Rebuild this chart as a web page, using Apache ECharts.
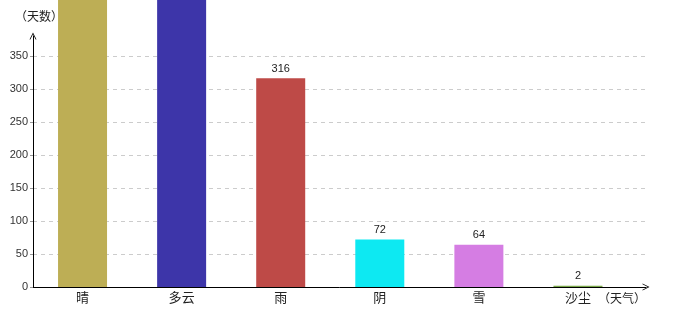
<!DOCTYPE html>
<html>
<head>
<meta charset="utf-8">
<script src="https://cdn.jsdelivr.net/npm/echarts@6/dist/echarts.min.js"></script>
<style>html,body{margin:0;padding:0;background:#fff}#c{width:680px;height:320px}</style>
</head>
<body>
<div id="c"></div>
<script>
// Data
const categories = ['晴', '多云', '雨', '阴', '雪', '沙尘'];
const days = [652, 543, 316, 72, 64, 2];
const barColors = ['#BDAE55', '#3D35A9', '#BE4A47', '#0DE9F2', '#D57DE3', '#7AA84A'];
const yTicks = [0, 50, 100, 150, 200, 250, 300, 350];

const font = '"Noto Sans CJK SC", "Liberation Sans", sans-serif';
const arrow = 'path://M0,10L5,0L10,10L8.8,10L5,2.4L1.2,10Z';

const chart = echarts.init(document.getElementById('c'), null, {renderer: 'canvas'});
chart.setOption({
  animation: false,
  backgroundColor: '#fff',
  textStyle: {fontFamily: font},
  grid: [
    {left: 33, right: 52.5, top: 36, bottom: 33, containLabel: false},
    {left: 33, right: 34, top: 56, bottom: 33, containLabel: false}
  ],
  xAxis: [
    {
      type: 'category', gridIndex: 0, data: categories,
      axisLine: {show: false}, axisTick: {show: false},
      axisLabel: {margin: 4, color: '#222', fontSize: 13, fontFamily: font},
      splitLine: {show: false}
    },
    {
      type: 'value', gridIndex: 1, min: 0, max: 1,
      axisLine: {show: true, lineStyle: {color: '#000', width: 1}, symbol: ['none', arrow], symbolSize: [7, 8]},
      axisTick: {show: false}, axisLabel: {show: false}, splitLine: {show: false},
      name: '（天气）', nameLocation: 'end', nameGap: -24,
      nameTextStyle: {align: 'center', verticalAlign: 'top', padding: [5, 0, 0, 0], color: '#222', fontSize: 12, fontFamily: font}
    }
  ],
  yAxis: [
    {
      type: 'value', gridIndex: 0, min: 0, max: 380,
      axisLine: {show: true, lineStyle: {color: '#000', width: 1}, symbol: ['none', arrow], symbolSize: [7, 8]},
      axisTick: {show: false}, axisLabel: {show: false}, splitLine: {show: false},
      name: '（天数）', nameLocation: 'end', nameGap: 14,
      nameTextStyle: {align: 'center', padding: [0, 0, 0, 12], color: '#222', fontSize: 12, fontFamily: font}
    },
    {
      type: 'value', gridIndex: 1, min: yTicks[0], max: yTicks[yTicks.length - 1], interval: 50,
      axisLine: {show: false},
      axisTick: {show: true, length: 3, lineStyle: {color: '#999'}},
      axisLabel: {margin: 5, color: '#333', fontSize: 11, fontFamily: '"Liberation Sans", sans-serif'},
      splitLine: {show: true, lineStyle: {color: '#ccc', type: [4, 4], width: 1}}
    }
  ],
  series: [{
    type: 'bar', xAxisIndex: 0, yAxisIndex: 0,
    clip: false,
    barWidth: 49,
    data: days.map((v, i) => ({value: v, itemStyle: {color: barColors[i]}})),
    label: {show: true, position: 'top', distance: 4, color: '#222', fontSize: 11, fontFamily: '"Liberation Sans", sans-serif'}
  }]
});
</script>
</body>
</html>
